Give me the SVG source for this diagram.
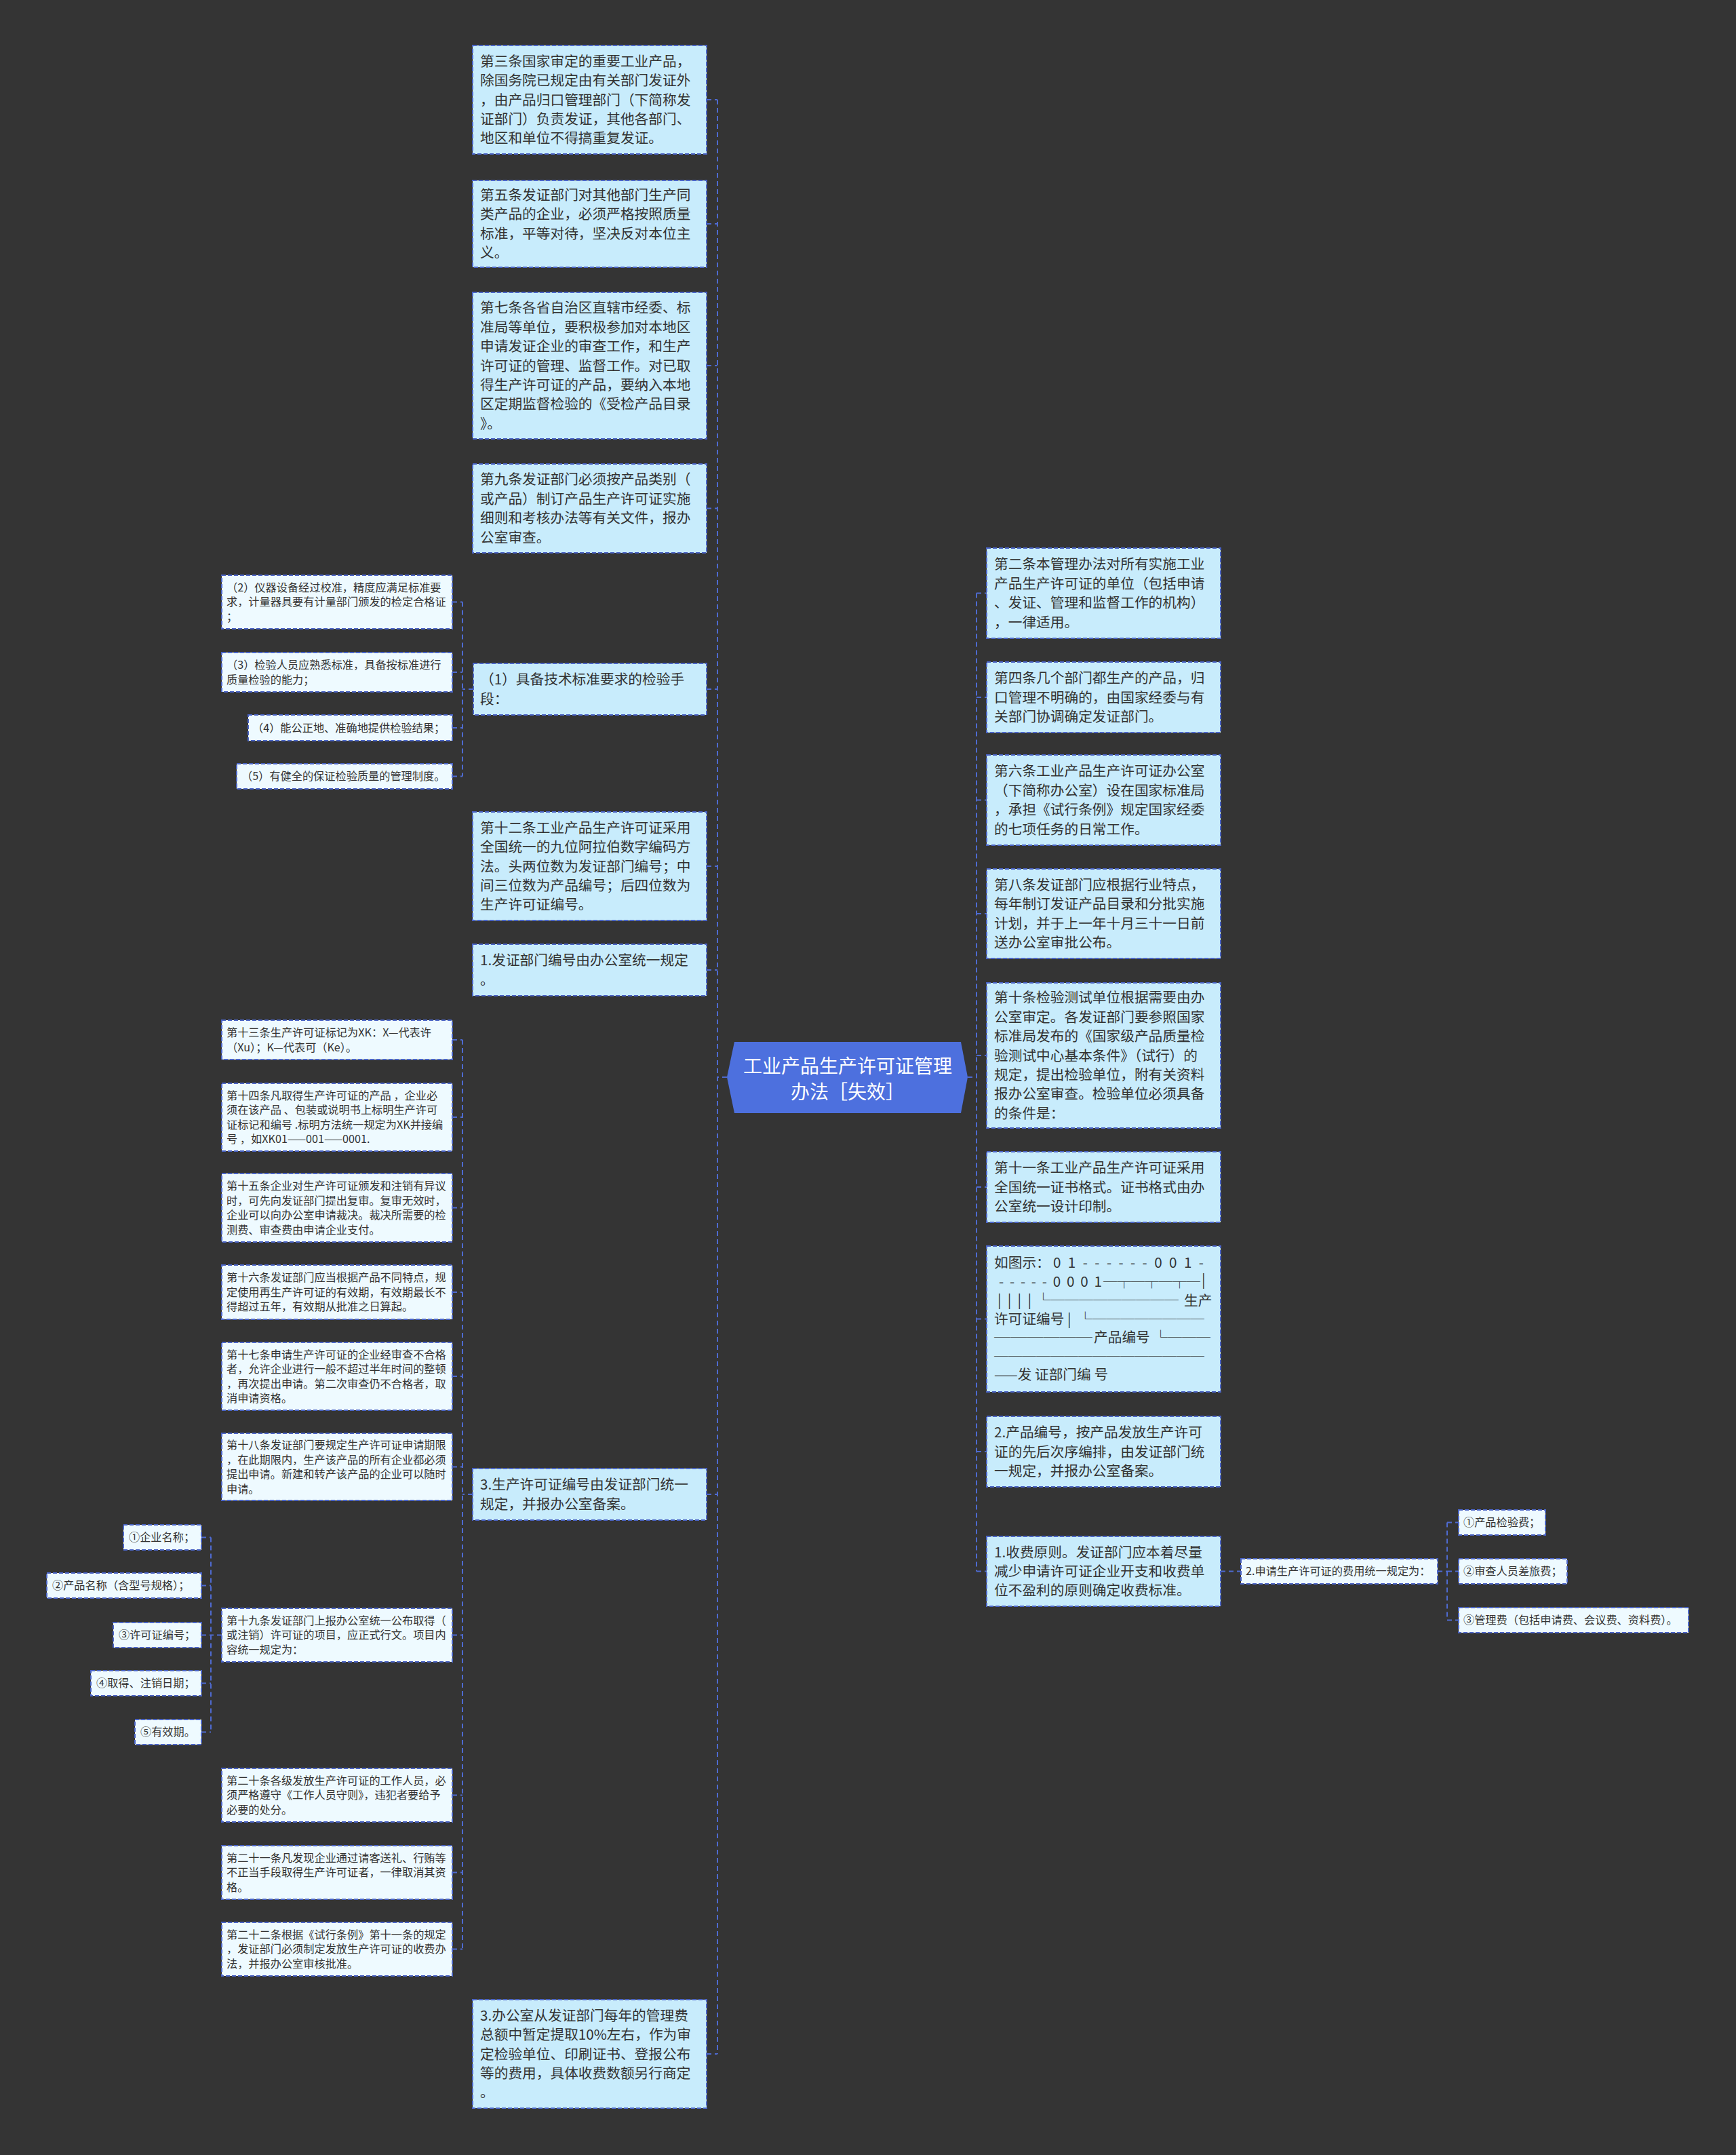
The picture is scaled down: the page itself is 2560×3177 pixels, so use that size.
<svg xmlns="http://www.w3.org/2000/svg" width="2560" height="3177" viewBox="0 0 2560 3177">
<style>
.n1{fill:#c8ecfc;stroke:#4a64c6;stroke-width:2;stroke-dasharray:6 3}
.n2{fill:#eefaff;stroke:#4a64c6;stroke-width:2;stroke-dasharray:6 3}
.ctr{fill:#4d70de}
.t1{font-family:"Noto Sans CJK SC","Noto Sans",sans-serif;font-size:20.7px;fill:#333333;white-space:pre}
.t2{font-family:"Noto Sans CJK SC","Noto Sans",sans-serif;font-size:16.2px;fill:#333333;white-space:pre}
.tc{font-family:"Noto Sans CJK SC","Noto Sans",sans-serif;font-size:28px;fill:#ffffff;text-anchor:middle}
.c{fill:none;stroke:#4e6ad0;stroke-width:2;stroke-dasharray:7 5}
</style>
<rect x="0" y="0" width="2560" height="3177" fill="#343434"/>

<g id="connectors">
<path class="c" d="M1072,1588 H1058 M1058,147 V3028 M1042,147 H1058 M1042,330 H1058 M1042,539 H1058 M1042,749.5 H1058 M1042,1016 H1058 M1042,1277 H1058 M1042,1430 H1058 M1042,2203 H1058 M1042,3028 H1058"/>
<path class="c" d="M1427,1588 H1440 M1440,874.5 V2316.5 M1440,874.5 H1455 M1440,1028 H1455 M1440,1179.5 H1455 M1440,1347 H1455 M1440,1556 H1455 M1440,1750 H1455 M1440,1944.5 H1455 M1440,2140 H1455 M1440,2316.5 H1455"/>
<path class="c" d="M698,1016 H682 M682,887.5 V1144.5 M667,887.5 H682 M667,991 H682 M667,1073 H682 M667,1144.5 H682"/>
<path class="c" d="M697,2203 H682 M682,1533 V2873.5 M667,1533 H682 M667,1647 H682 M667,1780.5 H682 M667,1905 H682 M667,2029 H682 M667,2162.5 H682 M667,2410.5 H682 M667,2646.5 H682 M667,2760.5 H682 M667,2873.5 H682"/>
<path class="c" d="M327,2410.5 H311 M311,2266.5 V2553.5 M297,2266.5 H311 M297,2337.5 H311 M297,2410.5 H311 M297,2481.5 H311 M297,2553.5 H311"/>
<path class="c" d="M1800,2316.5 H1830 M2120,2316.5 H2134 M2134,2244.5 V2388.5 M2134,2244.5 H2151 M2134,2316.5 H2151 M2134,2388.5 H2151"/>
</g>

<g id="center">
<polygon class="ctr" points="1083,1536 1417,1536 1427,1588 1417,1641 1083,1641 1072,1588"/>
<text class="tc" x="1250" y="1582">工业产品生产许可证管理</text>
<text class="tc" x="1250" y="1620">办法［失效］</text>
</g>

<g id="n-art3">
<rect class="n1" x="697" y="67" width="345" height="160"/>
<text class="t1" x="708" y="97.7">第三条国家审定的重要工业产品，</text>
<text class="t1" x="708" y="126.1">除国务院已规定由有关部门发证外</text>
<text class="t1" x="708" y="154.5">，由产品归口管理部门（下简称发</text>
<text class="t1" x="708" y="182.9">证部门）负责发证，其他各部门、</text>
<text class="t1" x="708" y="211.3">地区和单位不得搞重复发证。</text>
</g>
<g id="n-art5">
<rect class="n1" x="697" y="266" width="345" height="128"/>
<text class="t1" x="708" y="294.9">第五条发证部门对其他部门生产同</text>
<text class="t1" x="708" y="323.3">类产品的企业，必须严格按照质量</text>
<text class="t1" x="708" y="351.7">标准，平等对待，坚决反对本位主</text>
<text class="t1" x="708" y="380.1">义。</text>
</g>
<g id="n-art7">
<rect class="n1" x="697" y="431" width="345" height="216"/>
<text class="t1" x="708" y="461.3">第七条各省自治区直辖市经委、标</text>
<text class="t1" x="708" y="489.7">准局等单位，要积极参加对本地区</text>
<text class="t1" x="708" y="518.1">申请发证企业的审查工作，和生产</text>
<text class="t1" x="708" y="546.5">许可证的管理、监督工作。对已取</text>
<text class="t1" x="708" y="574.9">得生产许可证的产品，要纳入本地</text>
<text class="t1" x="708" y="603.3">区定期监督检验的《受检产品目录</text>
<text class="t1" x="708" y="631.7">》。</text>
</g>
<g id="n-art9">
<rect class="n1" x="697" y="684" width="345" height="131"/>
<text class="t1" x="708" y="714.4">第九条发证部门必须按产品类别（</text>
<text class="t1" x="708" y="742.8">或产品）制订产品生产许可证实施</text>
<text class="t1" x="708" y="771.2">细则和考核办法等有关文件，报办</text>
<text class="t1" x="708" y="799.6">公室审查。</text>
</g>
<g id="n-c1">
<rect class="n1" x="698" y="978" width="344" height="76"/>
<text class="t1" x="708" y="1009.3">（1）具备技术标准要求的检验手</text>
<text class="t1" x="708" y="1037.7">段：</text>
</g>
<g id="n-c2">
<rect class="n2" x="327" y="848" width="340" height="79"/>
<text class="t2" x="334" y="871.8">（2）仪器设备经过校准，精度应满足标准要</text>
<text class="t2" x="334" y="893.3">求，计量器具要有计量部门颁发的检定合格证</text>
<text class="t2" x="334" y="914.8">；</text>
</g>
<g id="n-c3">
<rect class="n2" x="327" y="962" width="340" height="58"/>
<text class="t2" x="334" y="986">（3）检验人员应熟悉标准，具备按标准进行</text>
<text class="t2" x="334" y="1007.5">质量检验的能力；</text>
</g>
<g id="n-c4">
<rect class="n2" x="366" y="1054" width="301" height="38"/>
<text class="t2" x="372" y="1078.8">（4）能公正地、准确地提供检验结果；</text>
</g>
<g id="n-c5">
<rect class="n2" x="349" y="1126" width="318" height="37"/>
<text class="t2" x="356" y="1150.3">（5）有健全的保证检验质量的管理制度。</text>
</g>
<g id="n-art12">
<rect class="n1" x="697" y="1197" width="345" height="160"/>
<text class="t1" x="708" y="1227.7">第十二条工业产品生产许可证采用</text>
<text class="t1" x="708" y="1256.1">全国统一的九位阿拉伯数字编码方</text>
<text class="t1" x="708" y="1284.5">法。头两位数为发证部门编号；中</text>
<text class="t1" x="708" y="1312.9">间三位数为产品编号；后四位数为</text>
<text class="t1" x="708" y="1341.3">生产许可证编号。</text>
</g>
<g id="n-f1">
<rect class="n1" x="697" y="1392" width="345" height="76"/>
<text class="t1" x="708" y="1423.3">1.发证部门编号由办公室统一规定</text>
<text class="t1" x="708" y="1451.7">。</text>
</g>
<g id="n-s3">
<rect class="n1" x="697" y="2165" width="345" height="76"/>
<text class="t1" x="708" y="2196.3">3.生产许可证编号由发证部门统一</text>
<text class="t1" x="708" y="2224.7">规定，并报办公室备案。</text>
</g>
<g id="n-o3">
<rect class="n1" x="697" y="2948" width="345" height="160"/>
<text class="t1" x="708" y="2978.7">3.办公室从发证部门每年的管理费</text>
<text class="t1" x="708" y="3007.1">总额中暂定提取10%左右，作为审</text>
<text class="t1" x="708" y="3035.5">定检验单位、印刷证书、登报公布</text>
<text class="t1" x="708" y="3063.9">等的费用，具体收费数额另行商定</text>
<text class="t1" x="708" y="3092.3">。</text>
</g>

<g id="n-art13">
<rect class="n2" x="327" y="1504" width="340" height="58"/>
<text class="t2" x="334" y="1528">第十三条生产许可证标记为XK：X—代表许</text>
<text class="t2" x="334" y="1549.5">（Xu）；K—代表可（Ke）。</text>
</g>
<g id="n-art14">
<rect class="n2" x="327" y="1597" width="340" height="100"/>
<text class="t2" x="334" y="1620.5">第十四条凡取得生产许可证的产品 ，企业必</text>
<text class="t2" x="334" y="1642">须在该产品 、包装或说明书上标明生产许可</text>
<text class="t2" x="334" y="1663.5">证标记和编号 .标明方法统一规定为XK并接编</text>
<text class="t2" x="334" y="1685">号 ，如XK01——001——0001.</text>
</g>
<g id="n-art15">
<rect class="n2" x="327" y="1730" width="340" height="101"/>
<text class="t2" x="334" y="1754">第十五条企业对生产许可证颁发和注销有异议</text>
<text class="t2" x="334" y="1775.5">时，可先向发证部门提出复审。复审无效时，</text>
<text class="t2" x="334" y="1797">企业可以向办公室申请裁决。裁决所需要的检</text>
<text class="t2" x="334" y="1818.5">测费、审查费由申请企业支付。</text>
</g>
<g id="n-art16">
<rect class="n2" x="327" y="1865" width="340" height="80"/>
<text class="t2" x="334" y="1889.3">第十六条发证部门应当根据产品不同特点，规</text>
<text class="t2" x="334" y="1910.8">定使用再生产许可证的有效期，有效期最长不</text>
<text class="t2" x="334" y="1932.3">得超过五年，有效期从批准之日算起。</text>
</g>
<g id="n-art17">
<rect class="n2" x="327" y="1979" width="340" height="100"/>
<text class="t2" x="334" y="2002.5">第十七条申请生产许可证的企业经审查不合格</text>
<text class="t2" x="334" y="2024">者，允许企业进行一般不超过半年时间的整顿</text>
<text class="t2" x="334" y="2045.5">，再次提出申请。第二次审查仍不合格者，取</text>
<text class="t2" x="334" y="2067">消申请资格。</text>
</g>
<g id="n-art18">
<rect class="n2" x="327" y="2113" width="340" height="99"/>
<text class="t2" x="334" y="2136">第十八条发证部门要规定生产许可证申请期限</text>
<text class="t2" x="334" y="2157.5">，在此期限内，生产该产品的所有企业都必须</text>
<text class="t2" x="334" y="2179">提出申请。新建和转产该产品的企业可以随时</text>
<text class="t2" x="334" y="2200.5">申请。</text>
</g>
<g id="n-art19">
<rect class="n2" x="327" y="2371" width="340" height="79"/>
<text class="t2" x="334" y="2394.8">第十九条发证部门上报办公室统一公布取得（</text>
<text class="t2" x="334" y="2416.3">或注销）许可证的项目，应正式行文。项目内</text>
<text class="t2" x="334" y="2437.8">容统一规定为：</text>
</g>
<g id="n-i1">
<rect class="n2" x="182" y="2248" width="115" height="37"/>
<text class="t2" x="190" y="2272.3">①企业名称；</text>
</g>
<g id="n-i2">
<rect class="n2" x="69" y="2319" width="228" height="37"/>
<text class="t2" x="77" y="2343.3">②产品名称（含型号规格）；</text>
</g>
<g id="n-i3">
<rect class="n2" x="167" y="2392" width="130" height="37"/>
<text class="t2" x="175" y="2416.3">③许可证编号；</text>
</g>
<g id="n-i4">
<rect class="n2" x="134" y="2463" width="163" height="37"/>
<text class="t2" x="142" y="2487.3">④取得、注销日期；</text>
</g>
<g id="n-i5">
<rect class="n2" x="199" y="2535" width="98" height="37"/>
<text class="t2" x="207" y="2559.3">⑤有效期。</text>
</g>
<g id="n-art20">
<rect class="n2" x="327" y="2607" width="340" height="79"/>
<text class="t2" x="334" y="2630.8">第二十条各级发放生产许可证的工作人员，必</text>
<text class="t2" x="334" y="2652.3">须严格遵守《工作人员守则》，违犯者要给予</text>
<text class="t2" x="334" y="2673.8">必要的处分。</text>
</g>
<g id="n-art21">
<rect class="n2" x="327" y="2721" width="340" height="79"/>
<text class="t2" x="334" y="2744.8">第二十一条凡发现企业通过请客送礼、行贿等</text>
<text class="t2" x="334" y="2766.3">不正当手段取得生产许可证者，一律取消其资</text>
<text class="t2" x="334" y="2787.8">格。</text>
</g>
<g id="n-art22">
<rect class="n2" x="327" y="2834" width="340" height="79"/>
<text class="t2" x="334" y="2857.8">第二十二条根据《试行条例》第十一条的规定</text>
<text class="t2" x="334" y="2879.3">，发证部门必须制定发放生产许可证的收费办</text>
<text class="t2" x="334" y="2900.8">法，并报办公室审核批准。</text>
</g>

<g id="n-art2">
<rect class="n1" x="1455" y="808" width="345" height="133"/>
<text class="t1" x="1466" y="839.4">第二条本管理办法对所有实施工业</text>
<text class="t1" x="1466" y="867.8">产品生产许可证的单位（包括申请</text>
<text class="t1" x="1466" y="896.2">、发证、管理和监督工作的机构）</text>
<text class="t1" x="1466" y="924.6">，一律适用。</text>
</g>
<g id="n-art4">
<rect class="n1" x="1455" y="976" width="345" height="104"/>
<text class="t1" x="1466" y="1007.1">第四条几个部门都生产的产品，归</text>
<text class="t1" x="1466" y="1035.5">口管理不明确的，由国家经委与有</text>
<text class="t1" x="1466" y="1063.9">关部门协调确定发证部门。</text>
</g>
<g id="n-art6">
<rect class="n1" x="1455" y="1113" width="345" height="133"/>
<text class="t1" x="1466" y="1144.4">第六条工业产品生产许可证办公室</text>
<text class="t1" x="1466" y="1172.8">（下简称办公室）设在国家标准局</text>
<text class="t1" x="1466" y="1201.2">，承担《试行条例》规定国家经委</text>
<text class="t1" x="1466" y="1229.6">的七项任务的日常工作。</text>
</g>
<g id="n-art8">
<rect class="n1" x="1455" y="1281" width="345" height="132"/>
<text class="t1" x="1466" y="1311.9">第八条发证部门应根据行业特点，</text>
<text class="t1" x="1466" y="1340.3">每年制订发证产品目录和分批实施</text>
<text class="t1" x="1466" y="1368.7">计划，并于上一年十月三十一日前</text>
<text class="t1" x="1466" y="1397.1">送办公室审批公布。</text>
</g>
<g id="n-art10">
<rect class="n1" x="1455" y="1449" width="345" height="214"/>
<text class="t1" x="1466" y="1478.3">第十条检验测试单位根据需要由办</text>
<text class="t1" x="1466" y="1506.7">公室审定。各发证部门要参照国家</text>
<text class="t1" x="1466" y="1535.1">标准局发布的《国家级产品质量检</text>
<text class="t1" x="1466" y="1563.5">验测试中心基本条件》（试行）的</text>
<text class="t1" x="1466" y="1591.9">规定，提出检验单位，附有关资料</text>
<text class="t1" x="1466" y="1620.3">报办公室审查。检验单位必须具备</text>
<text class="t1" x="1466" y="1648.7">的条件是：</text>
</g>
<g id="n-art11">
<rect class="n1" x="1455" y="1698" width="345" height="104"/>
<text class="t1" x="1466" y="1729.1">第十一条工业产品生产许可证采用</text>
<text class="t1" x="1466" y="1757.5">全国统一证书格式。证书格式由办</text>
<text class="t1" x="1466" y="1785.9">公室统一设计印制。</text>
</g>
<g id="n-fig">
<rect class="n1" x="1455" y="1837" width="345" height="215"/>
<text class="t1" x="1466" y="1869">如图示：</text>
<text class="t1" x="1553" y="1869" textLength="222" lengthAdjust="spacing">0 1 - - - - - - 0 0 1 -</text>
<text class="t1" x="1473" y="1896.5" textLength="152" lengthAdjust="spacing">- - - - - 0 0 0 1</text>
<text class="t1" x="1627" y="1896.5" textLength="143" lengthAdjust="spacingAndGlyphs">─┬─┬─┬─</text>
<text class="t1" x="1772" y="1894">|</text>
<text class="t1" x="1471" y="1924" textLength="50" lengthAdjust="spacing">| | | |</text>
<text class="t1" x="1528" y="1924" textLength="210" lengthAdjust="spacingAndGlyphs">└─────────</text>
<text class="t1" x="1746" y="1925">生产</text>
<text class="t1" x="1466" y="1951.5">许可证编号</text>
<text class="t1" x="1574" y="1951.5">|</text>
<text class="t1" x="1590" y="1951.5" textLength="186" lengthAdjust="spacingAndGlyphs">└────────</text>
<text class="t1" x="1466" y="1979" textLength="145" lengthAdjust="spacingAndGlyphs">──────</text>
<text class="t1" x="1613" y="1979">产品编号</text>
<text class="t1" x="1701" y="1979" textLength="84" lengthAdjust="spacingAndGlyphs">└───</text>
<text class="t1" x="1466" y="2006.5" textLength="310" lengthAdjust="spacingAndGlyphs">───────────────</text>
<text class="t1" x="1466" y="2034">——发 证部门编 号</text>
</g>
<g id="n-p2">
<rect class="n1" x="1455" y="2088" width="345" height="104"/>
<text class="t1" x="1466" y="2119.1">2.产品编号，按产品发放生产许可</text>
<text class="t1" x="1466" y="2147.5">证的先后次序编排，由发证部门统</text>
<text class="t1" x="1466" y="2175.9">一规定，并报办公室备案。</text>
</g>
<g id="n-fee1">
<rect class="n1" x="1455" y="2265" width="345" height="103"/>
<text class="t1" x="1466" y="2295.6">1.收费原则。发证部门应本着尽量</text>
<text class="t1" x="1466" y="2324">减少申请许可证企业开支和收费单</text>
<text class="t1" x="1466" y="2352.4">位不盈利的原则确定收费标准。</text>
</g>
<g id="n-fee2">
<rect class="n2" x="1830" y="2298" width="290" height="37"/>
<text class="t2" x="1837" y="2322.3">2.申请生产许可证的费用统一规定为：</text>
</g>
<g id="n-f1i">
<rect class="n2" x="2151" y="2226" width="128" height="37"/>
<text class="t2" x="2158" y="2250.3">①产品检验费；</text>
</g>
<g id="n-f2i">
<rect class="n2" x="2151" y="2298" width="160" height="37"/>
<text class="t2" x="2158" y="2322.3">②审查人员差旅费；</text>
</g>
<g id="n-f3i">
<rect class="n2" x="2151" y="2370" width="339" height="37"/>
<text class="t2" x="2158" y="2394.3">③管理费（包括申请费、会议费、资料费）。</text>
</g>
</svg>
